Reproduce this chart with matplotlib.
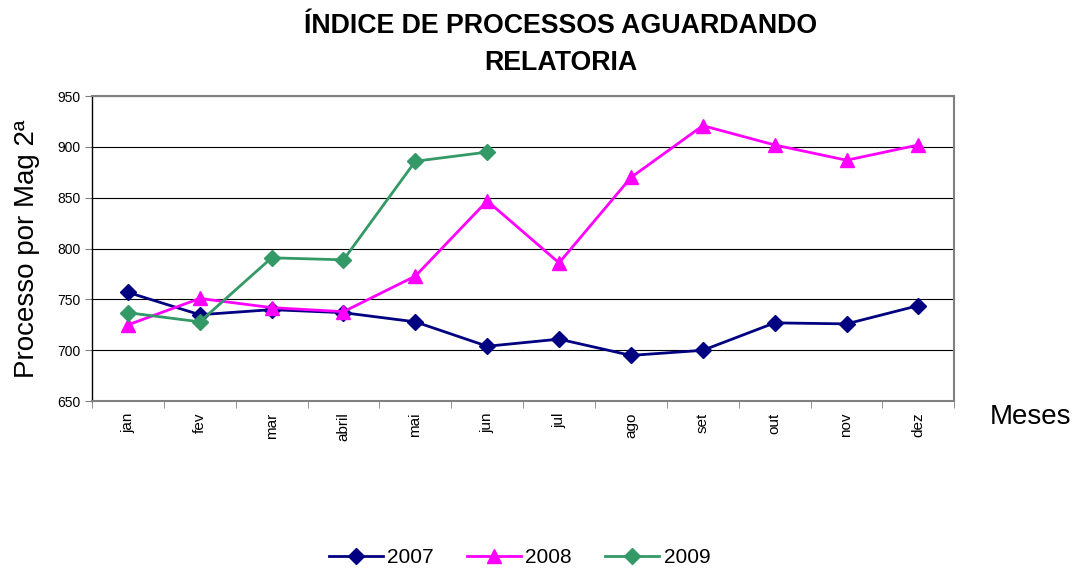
import matplotlib.pyplot as plt
import numpy as np

plt.rcParams['font.family'] = ['Liberation Sans', 'DejaVu Sans']

meses = ["jan", "fev", "mar", "abril", "mai", "jun", "jul", "ago", "set", "out", "nov", "dez"]
v2007 = [757, 735, 740, 737, 728, 704, 711, 695, 700, 727, 726, 744]
v2008 = [725, 751, 742, 738, 773, 847, 786, 870, 921, 902, 887, 902]
v2009 = [737, 728, 791, 789, 886, 895]

fig = plt.figure(figsize=(10.82, 5.69), dpi=100)
ax = fig.add_axes([0.085, 0.295, 0.797, 0.536])

x = np.arange(len(meses))
ax.plot(x, v2007, color="#000080", lw=2, marker="D", ms=8, label="2007")
ax.plot(x, v2008, color="#ff00ff", lw=2, marker="^", ms=10, label="2008")
ax.plot(x[:len(v2009)], v2009, color="#339966", lw=2, marker="D", ms=8, label="2009")

ax.set_xlim(-0.5, len(meses) - 0.5)
ax.set_ylim(650, 950)
ax.set_yticks(np.arange(650, 951, 50))
ax.set_xticks(x)
ax.set_xticklabels(meses, rotation=90, fontsize=11)
ax.set_xticks(np.arange(-0.5, len(meses), 1), minor=True)
ax.tick_params(axis="x", which="major", length=0, pad=8)
ax.tick_params(axis="x", which="minor", length=5, color="#808080")
ax.tick_params(axis="y", labelsize=10, length=5, color="#808080")
ax.grid(axis="y", color="black", lw=0.8)
for s in ax.spines.values():
    s.set_color("#808080")
    s.set_linewidth(1.5)
ax.spines["left"].set_color("black")
ax.spines["left"].set_linewidth(1)

ax.set_ylabel("Processo por Mag 2ª", fontsize=20)
ax.yaxis.set_label_coords(-0.06, 0.5)
fig.text(0.915, 0.255, "Meses", fontsize=20, ha="left")
fig.text(0.518, 0.922, "ÍNDICE DE PROCESSOS AGUARDANDO\nRELATORIA", fontsize=19.3,
         fontweight="bold", ha="center", va="center", linespacing=1.55)

fig.legend(loc="lower center", bbox_to_anchor=(0.48, -0.03), ncol=3, frameon=False,
           fontsize=15, handlelength=2.6, columnspacing=1.6, handletextpad=0.2)

fig.savefig("out.png", dpi=100)
